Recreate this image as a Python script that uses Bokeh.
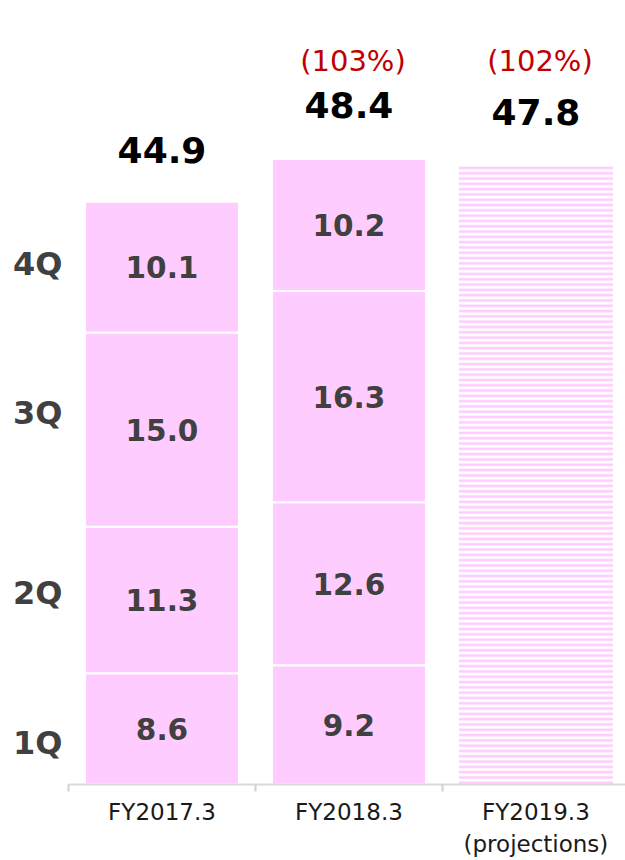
from bokeh.plotting import figure
from bokeh.models import ColumnDataSource, Range1d, FixedTicker
from bokeh.core.properties import value
from bokeh.embed import file_html
from bokeh.resources import INLINE

# ---- data ----
quarters = ["1Q", "2Q", "3Q", "4Q"]
fiscal_years = ["FY2017.3", "FY2018.3", "FY2019.3\n(projections)"]
fy2017 = [8.6, 11.3, 15.0, 10.1]
fy2018 = [9.2, 12.6, 16.3, 10.2]
totals = [44.9, 48.4, 47.8]
growth = ["", "(103%)", "(102%)"]

# ---- style / layout constants ----
PINK = "#FFCCFF"
FONT = "DejaVu Sans"
BAR_W = 0.824
quarter_label_pos = [3.2, 14.8, 28.7, 40.2]
pct_label_y = 55.9

xs = [i + 0.5 for i in range(len(fiscal_years))]

p = figure(width=625, height=860, output_backend="svg", toolbar_location=None,
           x_range=Range1d(0, 2.979), y_range=Range1d(0, 60.54),
           min_border_left=68, min_border_right=0, min_border_top=0,
           min_border_bottom=76)
p.outline_line_color = None
p.xgrid.visible = False
p.ygrid.visible = False
p.background_fill_color = "white"
p.border_fill_color = "white"

# stacked actual bars
src = ColumnDataSource(dict(x=xs[:2], **{q: [fy2017[i], fy2018[i]] for i, q in enumerate(quarters)}))
p.vbar_stack(quarters, x="x", width=BAR_W, source=src,
             fill_color=[PINK] * 4, line_color="white", line_width=2)

# projection bar (striped)
p.vbar(x=[xs[2]], top=[totals[2]], width=BAR_W, fill_color="white",
       hatch_pattern="horizontal_line", hatch_color=PINK, hatch_scale=5.3,
       hatch_weight=2.6, line_color=None)

# segment labels
lx, ly, lt = [], [], []
for xi, vals in zip(xs[:2], [fy2017, fy2018]):
    base = 0.0
    for v in vals:
        lx.append(xi)
        ly.append(base + v / 2)
        lt.append(f"{v:.1f}")
        base += v
p.text(x=lx, y=ly, text=lt, text_align="center", text_baseline="middle",
       text_font=value(FONT), text_font_style="bold", text_font_size="29.5px",
       text_color="#404040")

# totals
p.text(x=xs, y=totals, text=[f"{t:.1f}" for t in totals], text_align="center",
       text_baseline="middle", y_offset=-53, text_font=value(FONT),
       text_font_style="bold", text_font_size="36px", text_color="black")

# growth %
p.text(x=xs, y=[pct_label_y] * len(xs), text=growth, text_align="center",
       text_baseline="middle", x_offset=4, text_font=value(FONT),
       text_font_size="29px", text_color="#C00000")

# x axis
xa = p.xaxis[0]
xa.ticker = FixedTicker(ticks=xs, minor_ticks=[0, 1, 2, 3])
xa.major_label_overrides = {x: fy for x, fy in zip(xs, fiscal_years)}
xa.major_tick_out = 0
xa.major_tick_in = 0
xa.minor_tick_out = 7
xa.minor_tick_in = 0
xa.minor_tick_line_color = "#D0D0D0"
xa.minor_tick_line_width = 2
xa.axis_line_color = "#D9D9D9"
xa.axis_line_width = 2
xa.major_label_standoff = 7
xa.major_label_text_font = FONT
xa.major_label_text_font_size = "23px"
xa.major_label_text_color = "#1a1a1a"
xa.major_label_text_line_height = 1.25

# y axis with quarter labels
ya = p.yaxis[0]
ya.ticker = FixedTicker(ticks=quarter_label_pos)
ya.major_label_overrides = {y: q for y, q in zip(quarter_label_pos, quarters)}
ya.axis_line_color = None
ya.major_tick_line_color = None
ya.minor_tick_line_color = None
ya.major_tick_out = 0
ya.major_tick_in = 0
ya.major_label_standoff = 6
ya.major_label_text_font = FONT
ya.major_label_text_font_style = "bold"
ya.major_label_text_font_size = "32px"
ya.major_label_text_color = "#404040"

open("out.html", "w").write(file_html(p, INLINE))
